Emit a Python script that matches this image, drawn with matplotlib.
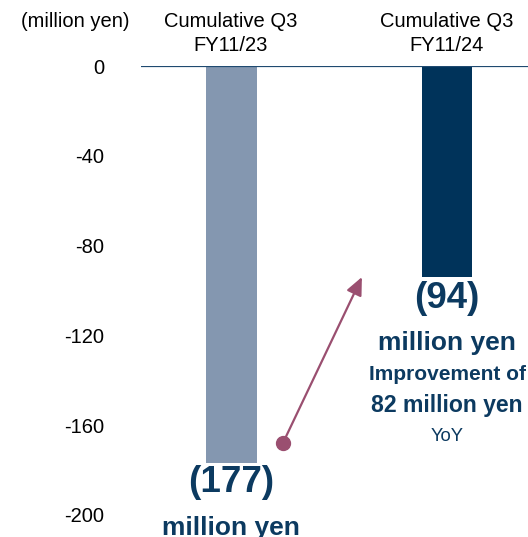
import matplotlib.pyplot as plt

plt.rcParams['font.family'] = ['Liberation Sans', 'DejaVu Sans']

# operating result, cumulative Q3 (million yen)
periods = ["FY11/23", "FY11/24"]
header = "Cumulative Q3"
values = [-177, -94]
improvement = 82  # year-on-year improvement as reported
yticks = [0, -40, -80, -120, -160, -200]

bar_colors = ["#8497b0", "#00335a"]
navy = "#0c3a60"
arrow_color = "#9a4f70"

fig = plt.figure(figsize=(5.28, 5.37), dpi=100)
ax = fig.add_axes([0.267, 0.041, 0.733, 0.836])

x = [0, 1]
ax.bar(x, values, width=0.236, color=bar_colors, zorder=2)
ax.axhline(0, color="#1f4a70", lw=1.6, zorder=3)

ax.set_xlim(-0.417, 1.375)
ax.set_ylim(-200, 0)
ax.set_yticks(yticks)
ax.set_yticklabels([str(v) for v in yticks], fontsize=14.5)
ax.tick_params(axis="y", length=0, pad=26.6)
ax.set_xticks([])
for s in ax.spines.values():
    s.set_visible(False)

# column headers
tr = ax.get_xaxis_transform()
for xi, p in zip(x, periods):
    ax.text(xi, 1.088, header, transform=tr, ha="center", va="baseline", fontsize=14.5)
    ax.text(xi, 1.033, p, transform=tr, ha="center", va="baseline", fontsize=14.5)
fig.text(75 / 528, 1 - 27 / 537, "(million yen)", ha="center", va="baseline", fontsize=14.5)

# value labels under the bars
def label(xi, v, txt, dy, size, weight="bold"):
    ax.annotate(txt, xy=(xi, v), xytext=(0, -dy), textcoords="offset points",
                ha="center", va="baseline", fontsize=size, fontweight=weight,
                color=navy, annotation_clip=False)

label(0, values[0], "(%d)" % -values[0], 20.9, 26.5)
label(0, values[0], "million yen", 51.5, 19)
label(1, values[1], "(%d)" % -values[1], 22.3, 26.5)
label(1, values[1], "million yen", 52.6, 19)
label(1, values[1], "Improvement of", 74.2, 15)
label(1, values[1], "%d million yen" % improvement, 97.2, 16.6)
label(1, values[1], "YoY", 118, 13.3, weight="normal")

# improvement arrow
start = (0.24, values[0] + 9)
end = (0.606, values[1])
ax.annotate("", xy=end, xytext=start,
            arrowprops=dict(arrowstyle="-|>,head_length=0.6,head_width=0.27",
                            color=arrow_color, lw=1.6,
                            mutation_scale=18, shrinkA=0, shrinkB=0))
ax.plot(*start, "o", color=arrow_color, markersize=10, zorder=4)

plt.savefig("out.png", dpi=100)
